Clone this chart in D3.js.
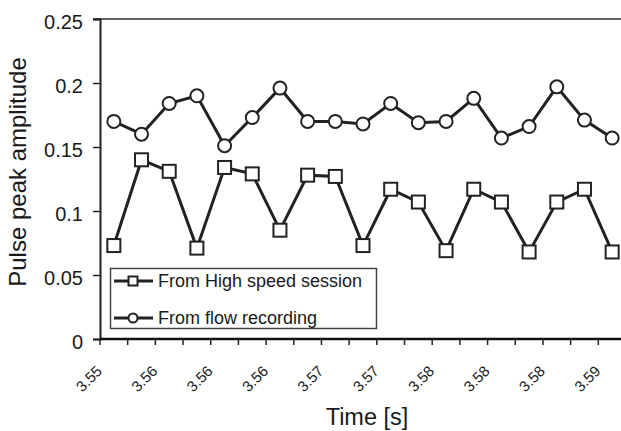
<!DOCTYPE html>
<html lang="en">
<head>
<meta charset="UTF-8"/>
<title>Pulse peak amplitude</title>
<script src="https://cdn.jsdelivr.net/npm/d3@7"></script>
<style>
  body { margin: 0; background: #fff; }
  text { font-family: "Liberation Sans", Arial, sans-serif; fill: #1a1a1a; }
</style>
</head>
<body>
<script>
// values
var highSpeed = [0.073, 0.140, 0.131, 0.071, 0.134, 0.129, 0.085, 0.128, 0.127, 0.073,
                 0.117, 0.107, 0.069, 0.117, 0.107, 0.068, 0.107, 0.117, 0.068];
var flowRec   = [0.170, 0.160, 0.184, 0.190, 0.151, 0.173, 0.196, 0.170, 0.170, 0.168,
                 0.184, 0.169, 0.170, 0.188, 0.157, 0.166, 0.197, 0.171, 0.157];
var xTickLabels = ["3.55", "3.56", "3.56", "3.56", "3.57", "3.57", "3.58", "3.58", "3.58", "3.59"];
var yTicks = [0, 0.05, 0.1, 0.15, 0.2, 0.25];
var legendNames = ["From High speed session", "From flow recording"];

var W = 621, H = 431;
var svg = d3.select('body').append('svg').attr('width', W).attr('height', H);

var idx = d3.range(highSpeed.length);
var x = d3.scaleBand().domain(idx).range([100, 626]);
var y = d3.scaleLinear().domain([0, 0.25]).range([339, 19]);

// top frame line (grey)
svg.append('line')
  .attr('x1', 93).attr('x2', W).attr('y1', y(0.25)).attr('y2', y(0.25))
  .attr('stroke', '#666').attr('stroke-width', 2);

// y axis
var yAxis = svg.append('g').attr('transform', 'translate(100,0)')
  .call(d3.axisLeft(y).tickValues(yTicks).tickSize(7).tickFormat(d => d === 0 ? "0" : d3.format('')(d)));
yAxis.select('.domain').attr('stroke', '#222').attr('stroke-width', 2);
yAxis.selectAll('.tick line').attr('stroke', '#222').attr('stroke-width', 1.5);
yAxis.selectAll('.tick text')
  .attr('x', -17).attr('dy', '0.45em')
  .style('font-size', '20px').style('font-family', '"Liberation Sans", Arial, sans-serif').attr('fill', '#1a1a1a');

// x axis: ticks at band starts
var xg = svg.append('g');
xg.append('line').attr('x1', 100).attr('x2', W).attr('y1', 339).attr('y2', 339)
  .attr('stroke', '#111').attr('stroke-width', 2.5);
xg.selectAll('.xt').data(idx).enter().append('line')
  .attr('x1', d => x(d)).attr('x2', d => x(d))
  .attr('y1', 339).attr('y2', 345)
  .attr('stroke', '#222').attr('stroke-width', 1.5);
xg.selectAll('.xl').data(xTickLabels).enter().append('text')
  .attr('transform', (d, i) => 'translate(' + (x(i * 2) + 3) + ',372) rotate(-45)')
  .attr('text-anchor', 'end')
  .style('font-size', '15px')
  .text(d => d);

// axis titles
svg.append('text')
  .attr('x', 367).attr('y', 425)
  .attr('text-anchor', 'middle')
  .style('font-size', '23.5px')
  .text('Time [s]');
svg.append('text')
  .attr('transform', 'translate(26,172) rotate(-90)')
  .attr('text-anchor', 'middle')
  .style('font-size', '24px')
  .text('Pulse peak amplitude');

// series
var cx = i => x(i) + x.bandwidth() / 2;
var line = d3.line().x((d, i) => cx(i)).y(d => y(d));

svg.append('path').datum(flowRec).attr('d', line)
  .attr('fill', 'none').attr('stroke', '#222').attr('stroke-width', 3);
svg.append('path').datum(highSpeed).attr('d', line)
  .attr('fill', 'none').attr('stroke', '#222').attr('stroke-width', 3);

svg.selectAll('.circ').data(flowRec).enter().append('circle')
  .attr('cx', (d, i) => cx(i)).attr('cy', d => y(d)).attr('r', 6.5)
  .attr('fill', '#fff').attr('stroke', '#222').attr('stroke-width', 2);
svg.selectAll('.sq').data(highSpeed).enter().append('rect')
  .attr('x', (d, i) => cx(i) - 6.5).attr('y', d => y(d) - 6.5)
  .attr('width', 13).attr('height', 13)
  .attr('fill', '#fff').attr('stroke', '#222').attr('stroke-width', 2);

// legend
var lg = svg.append('g');
lg.append('rect').attr('x', 110.5).attr('y', 268.5).attr('width', 266).attr('height', 60)
  .attr('fill', '#fff').attr('stroke', '#444').attr('stroke-width', 1.5);
legendNames.forEach(function(name, i) {
  var ly = 281 + i * 37;
  lg.append('line').attr('x1', 114).attr('x2', 153).attr('y1', ly).attr('y2', ly)
    .attr('stroke', '#222').attr('stroke-width', 3);
  if (i === 0) {
    lg.append('rect').attr('x', 128.5).attr('y', ly - 4.5).attr('width', 9).attr('height', 9)
      .attr('fill', '#fff').attr('stroke', '#222').attr('stroke-width', 2);
  } else {
    lg.append('circle').attr('cx', 133).attr('cy', ly).attr('r', 4.5)
      .attr('fill', '#fff').attr('stroke', '#222').attr('stroke-width', 2);
  }
  lg.append('text').attr('x', 158).attr('y', ly + 6)
    .style('font-size', '18px').text(name);
});
</script>
</body>
</html>
